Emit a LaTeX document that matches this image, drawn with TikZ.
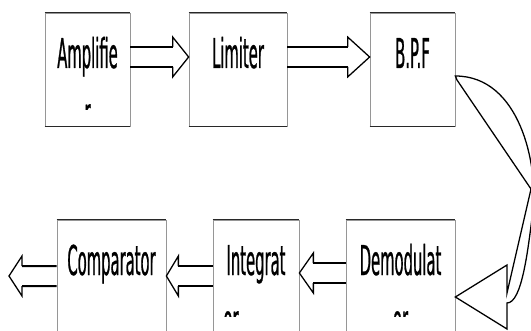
\documentclass[tikz,border=0pt]{standalone}
\usepackage{fontspec}
\usetikzlibrary{calc}

\newfontfamily\boxfont[FakeStretch=0.36,FakeBold=0.6]{DejaVu Sans}

% block arrow: #1 tail, #2 tip, #3 signed head length
\newcommand{\blockarrow}[3]{%
  \draw [shaftline] ($(#1)+(0,0.25)$) -- ($(#2)+(#3,0.25)$);%
  \draw [shaftline] ($(#1)+(0,-0.25)$) -- ($(#2)+(#3,-0.25)$);%
  \draw [headline] ($(#2)+(#3,0.25)$) -- ($(#2)+(#3,0.5)$) -- (#2) -- ($(#2)+(#3,-0.5)$) -- ($(#2)+(#3,-0.25)$);%
}

\tikzset{
  boxtext/.style={font={\boxfont\fontsize{29.2pt}{35pt}\selectfont}},
  blockbox/.style={boxtext, draw=r150g150b150, line width=0.018cm,
    inner xsep=0pt, inner ysep=0.625cm, text height=0.75cm, text depth=0.825cm,
    minimum height=2.825cm, align=center},
  edgeline/.style={line width=0.040cm, draw=r40g40b40},
  shaftline/.style={line width=0.050cm},
  headline/.style={line width=0.032cm, line join=miter},
}

\begin{document}
\begin{tikzpicture}
                        \clip (0,0) rectangle (13.275000,8.250000);
                        \definecolor{r150g150b150}{rgb}{0.588235,0.588235,0.588235}%
                        \definecolor{r40g40b40}{rgb}{0.156863,0.156863,0.156863}%

                        % Drawing box Amplifier
                        \node [blockbox, minimum width=2.125cm] (amp) at (2.187500,6.512500) {Amplifie};
                        \draw [edgeline] (amp.north west) -- (amp.north east);%
                        \draw [edgeline] (amp.south west) -- (amp.south east);%

                        % Drawing box Limiter
                        \node [blockbox, minimum width=2.450cm] (lim) at (5.950000,6.512500) {Limiter};
                        \draw [edgeline] (lim.north west) -- (lim.north east);%
                        \draw [edgeline] (lim.south west) -- (lim.south east);%

                        % Drawing box B.P.F
                        \node [blockbox, minimum width=2.125cm] (bpf) at (10.312500,6.512500) {B.P.F};
                        \draw [edgeline] (bpf.north west) -- (bpf.north east);%
                        \draw [edgeline] (bpf.south west) -- (bpf.south east);%

                        % Drawing box Demodulator
                        \node [blockbox, minimum width=2.725cm] (dem) at (10.012500,1.337500) {Demodulat};
                        \draw [edgeline] (dem.north west) -- (dem.north east);%

                        % Drawing box Integrator
                        \node [blockbox, minimum width=2.150cm] (int) at (6.400000,1.337500) {Integrat};
                        \draw [edgeline] (int.north west) -- (int.north east);%

                        % Drawing box Comparator
                        \node [blockbox, minimum width=2.725cm] (cmp) at (2.787500,1.337500) {Comparator};
                        \draw [edgeline] (cmp.north west) -- (cmp.north east);%

                        % Wrapped second lines, cut off by the text frame
                        \begin{scope}
                          \clip ($(amp.south west)+(0,0.425)$) rectangle (amp.north east);
                          \node [boxtext, anchor=base, inner sep=0pt] (ampr) at ($(amp.north)+(0,-2.862500)$) {r};
                        \end{scope}
                        \begin{scope}
                          \clip ($(int.south west)+(0,0.425)$) rectangle (int.north east);
                          \node [boxtext, anchor=base, inner sep=0pt] (intor) at ($(int.north)+(-0.625000,-2.862500)$) {or};
                        \end{scope}
                        \begin{scope}
                          \clip ($(dem.south west)+(0,0.425)$) rectangle (dem.north east);
                          \node [boxtext, anchor=base, inner sep=0pt] (demor) at ($(dem.north)+(0,-2.862500)$) {or};
                        \end{scope}

                        % Arrow ends
                        \coordinate (a1) at ($(amp.east)+(0,0.312500)$);
                        \coordinate (b1) at ($(lim.west)+(0,0.312500)$);
                        \coordinate (a2) at ($(lim.east)+(0,0.312500)$);
                        \coordinate (b2) at ($(bpf.west)+(0,0.312500)$);
                        \coordinate (a3) at ($(dem.west)+(0,0.087500)$);
                        \coordinate (b3) at ($(int.east)+(0,0.087500)$);
                        \coordinate (a4) at ($(int.west)+(0,0.012500)$);
                        \coordinate (b4) at ($(cmp.east)+(0,0.012500)$);
                        \coordinate (a5) at ($(cmp.west)+(0,0.012500)$);
                        \coordinate (out) at (0.225000,1.350000);

                        % Drawing arrow Amplifier Limiter
                        \blockarrow{a1}{b1}{-0.400000}
                        % Drawing arrow Limiter B.P.F
                        \blockarrow{a2}{b2}{-0.550000}
                        % Drawing arrow Demodulator Integrator
                        \blockarrow{a3}{b3}{0.350000}
                        % Drawing arrow Integrator Comparator
                        \blockarrow{a4}{b4}{0.300000}
                        % Drawing arrow Comparator out
                        \blockarrow{a5}{out}{0.325000}

                        % Drawing curved arrow B.P.F Demodulator
                        \coordinate (c0) at ($(bpf.east)+(0,-0.162500)$);
                        \coordinate (c1) at ($(dem.east)+(0,-0.512500)$);
                        \draw [headline, fill=white] (c0) .. controls (13.000000,6.350000) and (13.450000,4.125000) .. (13.325000,3.000000)
                          .. controls (13.200000,2.000000) and (13.050000,0.675000) .. (12.675000,0.675000)
                          -- (12.675000,0.025000) -- (c1) -- (12.675000,1.625000) -- (12.675000,0.925000)
                          -- (13.275000,3.525000) -- (11.425000,6.250000) -- cycle;%
                    \end{tikzpicture}
\end{document}
